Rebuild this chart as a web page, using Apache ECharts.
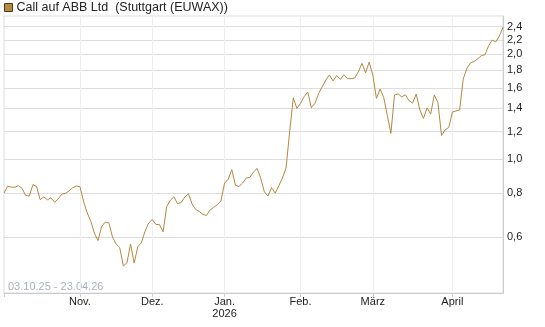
<!DOCTYPE html>
<html>
<head>
<meta charset="utf-8">
<script src="https://cdn.jsdelivr.net/npm/echarts@6/dist/echarts.min.js"></script>
<style>
  html, body { margin: 0; padding: 0; background: #fff; }
  #chart { width: 545px; height: 327px; }
</style>
</head>
<body>
<div id="chart"></div>
<script>
const seriesName = 'Call auf ABB Ltd  (Stuttgart (EUWAX))';
const dateRange = '03.10.25 - 23.04.26';
const firstDay = '2025-10-03';
const lastDay = '2026-04-23';
const holidays = ['2025-12-24', '2025-12-25', '2025-12-26', '2026-01-01', '2026-04-03', '2026-04-06'];
const monthNames = ['Jan.', 'Feb.', 'März', 'April', 'Mai', 'Juni', 'Juli', 'Aug.', 'Sep.', 'Okt.', 'Nov.', 'Dez.'];
const yTicks = [0.6, 0.8, 1.0, 1.2, 1.4, 1.6, 1.8, 2.0, 2.2, 2.4];

// closing prices, one per trading day
const prices = [
  0.800, 0.838, 0.833, 0.832, 0.841, 0.825, 0.788, 0.785, 0.846, 0.836,
  0.766, 0.781, 0.766, 0.776, 0.753, 0.771, 0.795, 0.799, 0.812, 0.829,
  0.839, 0.835, 0.758, 0.703, 0.664, 0.615, 0.585, 0.642, 0.661, 0.658,
  0.599, 0.572, 0.559, 0.495, 0.505, 0.572, 0.504, 0.562, 0.577, 0.622,
  0.657, 0.672, 0.651, 0.650, 0.620, 0.732, 0.764, 0.781, 0.746, 0.752,
  0.780, 0.797, 0.745, 0.719, 0.709, 0.695, 0.691, 0.716, 0.729, 0.741,
  0.760, 0.855, 0.877, 0.934, 0.843, 0.836, 0.856, 0.884, 0.888, 0.920,
  0.942, 0.883, 0.807, 0.785, 0.830, 0.800, 0.840, 0.884, 0.944, 1.200,
  1.500, 1.400, 1.447, 1.512, 1.560, 1.406, 1.447, 1.544, 1.615, 1.688,
  1.745, 1.677, 1.739, 1.694, 1.747, 1.703, 1.703, 1.710, 1.782, 1.884,
  1.770, 1.901, 1.743, 1.495, 1.590, 1.506, 1.337, 1.187, 1.531, 1.540,
  1.510, 1.532, 1.473, 1.450, 1.539, 1.386, 1.310, 1.404, 1.349, 1.530,
  1.456, 1.170, 1.215, 1.234, 1.366, 1.376, 1.385, 1.699, 1.823, 1.889,
  1.907, 1.941, 1.982, 1.994, 2.113, 2.198, 2.170, 2.256, 2.390
];

function tradingDays(from, to, skip) {
  const out = [];
  const d = new Date(from + 'T00:00:00Z');
  const end = new Date(to + 'T00:00:00Z');
  while (d <= end) {
    const wd = d.getUTCDay();
    const iso = d.toISOString().slice(0, 10);
    if (wd !== 0 && wd !== 6 && skip.indexOf(iso) < 0) out.push(iso);
    d.setUTCDate(d.getUTCDate() + 1);
  }
  return out;
}

const dates = tradingDays(firstDay, lastDay, holidays);

const isMonthStart = (i) => i > 0 && dates[i].slice(5, 7) !== dates[i - 1].slice(5, 7);

const font = '"Liberation Sans", Arial, sans-serif';

const chart = echarts.init(document.getElementById('chart'), null, { renderer: 'canvas' });

const option = {
  animation: false,
  legend: {
    left: 4,
    top: 1,
    padding: 0,
    icon: 'rect',
    itemWidth: 8,
    itemHeight: 8,
    itemGap: 4,
    textStyle: { fontSize: 12.5, color: '#222', fontFamily: font, padding: [0, 0, 0, -1] },
    data: [{ name: seriesName, itemStyle: { borderColor: '#4a3a22', borderWidth: 1 } }]
  },
  grid: {
    left: 4,
    right: 42,
    top: 16,
    bottom: 34,
    show: true,
    borderColor: '#ddd',
    borderWidth: 1
  },
  xAxis: {
    type: 'category',
    data: dates,
    boundaryGap: false,
    axisLine: { lineStyle: { color: '#ccc' } },
    axisTick: {
      interval: (i) => i === 0 || isMonthStart(i),
      length: 4,
      lineStyle: { color: '#ccc' }
    },
    axisLabel: {
      interval: (i) => isMonthStart(i),
      formatter: (v) => {
        const m = +v.slice(5, 7) - 1;
        return m === 0 ? monthNames[m] + '\n' + v.slice(0, 4) : monthNames[m];
      },
      color: '#222',
      fontSize: 11,
      fontFamily: font,
      lineHeight: 12,
      margin: 3
    },
    splitLine: {
      show: true,
      interval: (i) => isMonthStart(i),
      lineStyle: { color: '#eee' }
    }
  },
  yAxis: {
    type: 'log',
    logBase: 10,
    min: 0.414,
    max: 2.575,
    position: 'right',
    axisLine: { show: true, lineStyle: { color: '#ccc' } },
    axisTick: { show: false, customValues: yTicks },
    axisLabel: {
      customValues: yTicks,
      formatter: (v) => v.toFixed(1).replace('.', ','),
      color: '#222',
      fontSize: 11,
      fontFamily: font,
      margin: 4
    },
    splitLine: { show: true, lineStyle: { color: '#ddd' } }
  },
  graphic: [{
    type: 'text',
    left: 8,
    top: 281,
    style: { text: dateRange, fill: '#a9b2c0', font: '11px ' + font }
  }],
  series: [{
    name: seriesName,
    type: 'line',
    data: prices,
    showSymbol: false,
    color: '#b5873f',
    lineStyle: { width: 1, color: '#b5873f' }
  }]
};

chart.setOption(option);
</script>
</body>
</html>
